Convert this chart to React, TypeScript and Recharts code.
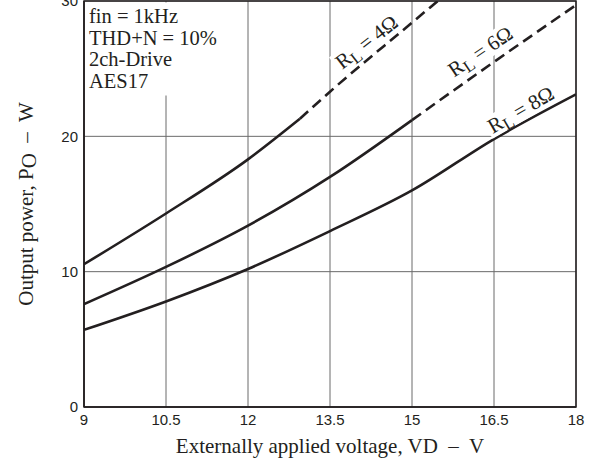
import {
  LineChart, Line, XAxis, YAxis, CartesianGrid,
  ReferenceArea, ReferenceDot,
} from "recharts";

// Output power vs supply voltage
const voltageTicks = [9, 10.5, 12, 13.5, 15, 16.5, 18];
const powerTicks = [0, 10, 20, 30];

const v4Solid = [9, 10.5, 12, 12.95];
const p4Solid = [10.55, 14.3, 18.3, 21.3];
const v4Dash = [12.95, 13.5, 15, 15.5];
const p4Dash = [21.3, 23.3, 28.4, 30.1];

const v6Solid = [9, 10.5, 12, 13.5, 15];
const p6Solid = [7.6, 10.35, 13.4, 17.0, 21.2];
const v6Dash = [15, 16.5, 18];
const p6Dash = [21.2, 25.5, 29.7];

const v8 = [9, 10.5, 12, 13.5, 15, 16.5, 18];
const p8 = [5.7, 7.8, 10.2, 13.0, 16.0, 19.8, 23.1];

const conditions = ["fin = 1kHz", "THD+N = 10%", "2ch-Drive", "AES17"];

const INK = "#231f20";
const GRID = "#6a6a6a";
const SERIF = "'Liberation Serif', 'Times New Roman', serif";
const SANS = "'Liberation Sans', Arial, sans-serif";

const zip = (xs: number[], ys: number[]) => xs.map((v, i) => ({ v, p: ys[i] }));

// where the R_L tags sit (data coords) and their tilt
const loadTags = [
  { ohm: "4", v: 14.18, p: 26.9, angle: -38 },
  { ohm: "6", v: 16.26, p: 26.2, angle: -34 },
  { ohm: "8", v: 17.0, p: 21.9, angle: -30 },
];

function LoadTag({ cx, cy, ohm, angle }: any) {
  return (
    <g transform={`translate(${cx},${cy}) rotate(${angle})`}>
      <rect x={-39} y={-12} width={78} height={22} fill="#fff" />
      <text
        x={0}
        y={6}
        textAnchor="middle"
        fontFamily={SERIF}
        fontSize={21}
        fill={INK}
      >
        R<tspan fontSize={17} dy={4}>L</tspan>
        <tspan dy={-4}> = {ohm}Ω</tspan>
      </text>
    </g>
  );
}

function ConditionsBox({ cx, cy }: any) {
  return (
    <g>
      <rect x={cx + 1.5} y={cy + 1.5} width={142} height={93} fill="#fff" />
      {conditions.map((line, i) => (
        <text
          key={line}
          x={cx + 5}
          y={cy + 22 + i * 21.6}
          fontFamily={SERIF}
          fontSize={20.5}
          fill={INK}
        >
          {line}
        </text>
      ))}
    </g>
  );
}

// recharts nudges the top tick inward; the reference leaves "30" half cut off
function PowerTick({ x, y, payload }: any) {
  const ty = payload?.coordinate ?? y;
  return (
    <text
      x={x}
      y={ty}
      dy="0.36em"
      textAnchor="end"
      fontFamily={SANS}
      fontSize={15}
      fill={INK}
    >
      {payload.value}
    </text>
  );
}

export default function App() {
  const lineProps = {
    dataKey: "p",
    stroke: INK,
    strokeWidth: 2.6,
    dot: false,
    activeDot: false,
    type: "monotone" as const,
    isAnimationActive: false,
  };

  return (
    <div style={{ position: "absolute", left: 0, top: 0, background: "#fff" }}>
      <LineChart
        width={606}
        height={461}
        margin={{ top: 1, right: 30, bottom: 24, left: 24 }}
      >
        <CartesianGrid stroke={GRID} strokeWidth={1} />
        <XAxis
          dataKey="v"
          type="number"
          domain={[9, 18]}
          ticks={voltageTicks}
          allowDataOverflow
          height={30}
          tickSize={0}
          tickMargin={7}
          axisLine={{ stroke: INK, strokeWidth: 1.5 }}
          tick={{ fill: INK, fontSize: 15, fontFamily: SANS }}
          label={{
            content: ({ viewBox }: any) => (
              <text
                x={viewBox.x + viewBox.width / 2}
                y={viewBox.y + 46}
                textAnchor="middle"
                fontFamily={SERIF}
                fontSize={21}
                fill={INK}
                style={{ whiteSpace: "pre" }}
              >
                {"Externally applied voltage, VD  –  V"}
              </text>
            ),
          }}
        />
        <YAxis
          type="number"
          domain={[0, 30]}
          ticks={powerTicks}
          allowDataOverflow
          width={60}
          tickSize={0}
          tickMargin={6}
          axisLine={{ stroke: INK, strokeWidth: 1.5 }}
          tick={<PowerTick />}
          label={{
            content: ({ viewBox }: any) => {
              const x = viewBox.x + 9;
              const y = viewBox.y + viewBox.height / 2;
              return (
                <text
                  x={x}
                  y={y}
                  transform={`rotate(-90 ${x} ${y})`}
                  textAnchor="middle"
                  fontFamily={SERIF}
                  fontSize={21}
                  fill={INK}
                  style={{ whiteSpace: "pre" }}
                >
                  Output power, P<tspan dy={3}>O</tspan>
                  <tspan dy={-3}>{"  –  W"}</tspan>
                </text>
              );
            },
          }}
        />
        <ReferenceArea
          x1={9}
          x2={18}
          y1={0}
          y2={30}
          fill="none"
          stroke={INK}
          strokeWidth={1.5}
        />

        <Line {...lineProps} data={zip(v4Solid, p4Solid)} />
        <Line {...lineProps} data={zip(v4Dash, p4Dash)} strokeDasharray="11 6" />
        <Line {...lineProps} data={zip(v6Solid, p6Solid)} />
        <Line {...lineProps} data={zip(v6Dash, p6Dash)} strokeDasharray="11 6" />
        <Line {...lineProps} data={zip(v8, p8)} />

        <ReferenceDot
          x={9}
          y={30}
          r={0}
          shape={(props: any) => <ConditionsBox {...props} />}
        />
        {loadTags.map((t) => (
          <ReferenceDot
            key={t.ohm}
            x={t.v}
            y={t.p}
            r={0}
            shape={(props: any) => (
              <LoadTag cx={props.cx} cy={props.cy} ohm={t.ohm} angle={t.angle} />
            )}
          />
        ))}
      </LineChart>
    </div>
  );
}
